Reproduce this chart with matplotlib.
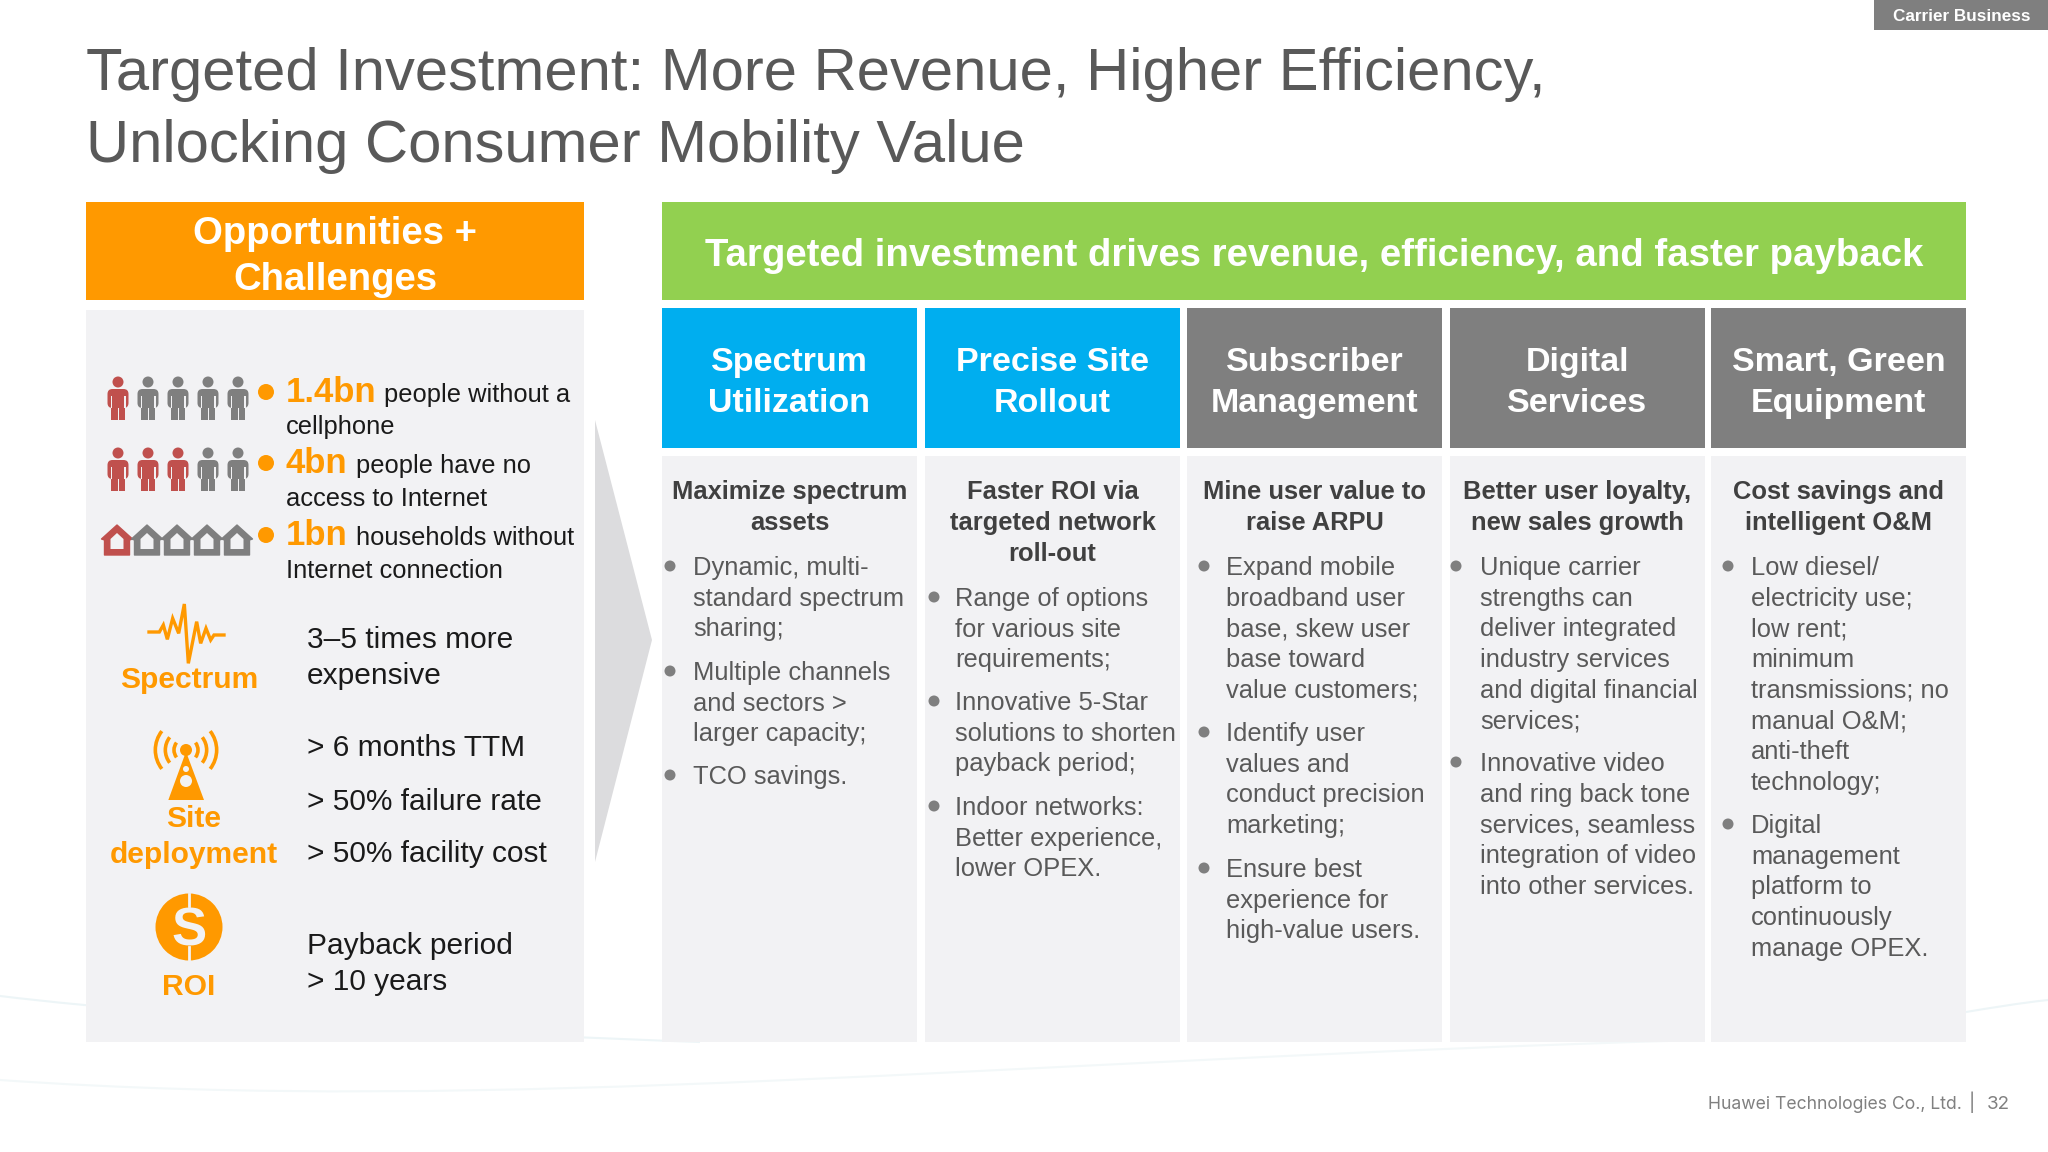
import numpy as np
from matplotlib import pyplot as plt
from matplotlib.patches import Rectangle, Circle, Polygon, FancyBboxPatch, Arc, PathPatch
from matplotlib.path import Path

ORANGE = "#ff9900"
GREEN = "#92d050"
BLUE = "#00aeef"
GREY = "#7f7f7f"
PANEL = "#f2f2f4"
RED = "#c0504d"
BODY = "#595959"
DARK = "#404040"
BLACK = "#1a1a1a"

title_lines = ["Targeted Investment: More Revenue, Higher Efficiency,",
               "Unlocking Consumer Mobility Value"]

headers = [["Spectrum", "Utilization"],
           ["Precise Site", "Rollout"],
           ["Subscriber", "Management"],
           ["Digital", "Services"],
           ["Smart, Green", "Equipment"]]
header_colors = [BLUE, BLUE, GREY, GREY, GREY]

subtitles = [["Maximize spectrum", "assets"],
             ["Faster ROI via", "targeted network", "roll-out"],
             ["Mine user value to", "raise ARPU"],
             ["Better user loyalty,", "new sales growth"],
             ["Cost savings and", "intelligent O&M"]]

bullets = [
    [["Dynamic, multi-", "standard spectrum", "sharing;"],
     ["Multiple channels", "and sectors >", "larger capacity;"],
     ["TCO savings."]],
    [["Range of options", "for various site", "requirements;"],
     ["Innovative 5-Star", "solutions to shorten", "payback period;"],
     ["Indoor networks:", "Better experience,", "lower OPEX."]],
    [["Expand mobile", "broadband user", "base, skew user", "base toward", "value customers;"],
     ["Identify user", "values and", "conduct precision", "marketing;"],
     ["Ensure best", "experience for", "high-value users."]],
    [["Unique carrier", "strengths can", "deliver integrated", "industry services", "and digital financial", "services;"],
     ["Innovative video", "and ring back tone", "services, seamless", "integration of video", "into other services."]],
    [["Low diesel/", "electricity use;", "low rent;", "minimum", "transmissions; no", "manual O&M;", "anti-theft", "technology;"],
     ["Digital", "management", "platform to", "continuously", "manage OPEX."]],
]
# first baseline of each bullet block
bullet_y = [[575, 680, 784],
            [606, 710, 815],
            [575, 741, 877],
            [575, 771],
            [575, 833]]
bullet_dot_x = [670, 934, 1204, 1456, 1728]
bullet_text_x = [693, 955, 1226, 1480, 1751]

col_left = [662, 925, 1187, 1450, 1711]
col_width = 255

stat_rows = [("1.4bn", "people without a", "cellphone", 384),
             ("4bn", "people have no", "access to Internet", 356),
             ("1bn", "households without", "Internet connection", 356)]
stat_red_counts = [1, 3, 1]
stat_y = [402, 473, 545]
stat_y2 = [434, 506, 578]

pain_text = [("3–5 times more", 648), ("expensive", 684), ("> 6 months TTM", 756),
             ("> 50% failure rate", 810), ("> 50% facility cost", 862),
             ("Payback period", 954), ("> 10 years", 990)]
pain_labels = [("Spectrum", 189, 688), ("Site", 194, 827), ("deployment", 194, 863), ("ROI", 189, 995)]


def person(ax, cx, top, color):
    ax.add_patch(Circle((cx, top + 5), 5.5, fc=color, ec="none"))
    ax.add_patch(FancyBboxPatch((cx - 7.5, top + 15), 15, 13, boxstyle="round,pad=3,rounding_size=5", fc=color, ec="none"))
    ax.add_patch(Rectangle((cx - 7, top + 26), 6.5, 17, fc=color, ec="none"))
    ax.add_patch(Rectangle((cx + 0.5, top + 26), 6.5, 17, fc=color, ec="none"))
    ax.add_patch(Rectangle((cx - 7.5, top + 19), 1.2, 12, fc=PANEL, ec="none"))
    ax.add_patch(Rectangle((cx + 6.3, top + 19), 1.2, 12, fc=PANEL, ec="none"))


def house(ax, cx, top, color):
    w = 15.5
    ax.add_patch(Polygon([(cx, top), (cx + w, top + 14), (cx + w - 3, top + 15), (cx + w - 3, top + 30),
                          (cx - w + 3, top + 30), (cx - w + 3, top + 15), (cx - w, top + 14)],
                         fc=color, ec=color, lw=1, joinstyle="round"))
    ax.add_patch(Polygon([(cx, top + 8), (cx + 6.5, top + 14), (cx + 6.5, top + 24), (cx - 6.5, top + 24), (cx - 6.5, top + 14)],
                         fc=PANEL, ec="none"))


def zoom_xy(x, y):
    return 80 + x / 3, 590 + y / 3


def wave_icon(ax):
    pts = [(207, 126), (238, 126), (250, 105), (262, 148), (278, 85), (296, 130), (313, 42),
           (325, 220), (350, 95), (362, 160), (378, 115), (392, 150), (402, 135), (432, 135)]
    xs, ys = zip(*[zoom_xy(*p) for p in pts])
    ax.plot(xs, ys, color=ORANGE, lw=2.4, solid_joinstyle="miter")


def tower_icon(ax):
    cx, cy = zoom_xy(318, 480)
    ax.add_patch(Polygon([zoom_xy(265, 630), zoom_xy(372, 630), zoom_xy(318, 485)], fc=ORANGE, ec="none"))
    ax.add_patch(Circle((cx, cy), 6, fc=ORANGE, ec="none"))
    ax.add_patch(Circle(zoom_xy(318, 537), 3, fc=PANEL, ec="none"))
    ax.add_patch(Circle(zoom_xy(318, 573), 6, fc=PANEL, ec="none"))
    for r in [36, 62, 92]:
        d = 2 * r / 3
        ax.add_patch(Arc((cx, cy), d, d, angle=0, theta1=-38, theta2=38, color=ORANGE, lw=2.6))
        ax.add_patch(Arc((cx, cy), d, d, angle=0, theta1=142, theta2=218, color=ORANGE, lw=2.6))


def dollar_icon(ax):
    ax.add_patch(Circle((189, 927), 33.5, fc=ORANGE, ec="none"))
    ax.text(189, 946, "S", color=PANEL, fontsize=38, fontweight="bold", ha="center", va="baseline")
    ax.plot([189, 189], [906, 947], color=ORANGE, lw=2)
    ax.plot([189, 189], [894, 906], color=PANEL, lw=2)
    ax.plot([189, 189], [947, 960], color=PANEL, lw=2)


def swoosh(ax, verts, color="#edf5f7"):
    codes = [Path.MOVETO] + [Path.CURVE4] * (len(verts) - 1)
    ax.add_patch(PathPatch(Path(verts, codes), fc="none", ec=color, lw=1.5))


def main():
    plt.rcParams["font.family"] = ["Liberation Sans", "DejaVu Sans"]

    fig = plt.figure(figsize=(20.48, 11.52), dpi=100)
    ax = fig.add_axes([0, 0, 1, 1])
    ax.set_xlim(0, 2048)
    ax.set_ylim(1152, 0)
    ax.axis("off")

    # faint background swooshes
    swoosh(ax, [(0, 996), (200, 1020), (500, 1035), (700, 1042)])
    swoosh(ax, [(0, 1080), (500, 1115), (1000, 1060), (1700, 1040)], "#f3f8f9")
    swoosh(ax, [(1966, 1012), (1990, 1008), (2020, 1003), (2048, 1000)])

    # top right tab
    ax.add_patch(Rectangle((1874, 0), 174, 30, fc=GREY, ec="none"))
    ax.text(1962, 21, "Carrier Business", color="white", fontsize=12.3, fontweight="bold", ha="center", va="baseline")

    for line, y in zip(title_lines, [90, 162]):
        ax.text(86, y, line, color=BODY, fontsize=43, ha="left", va="baseline")

    # left column
    ax.add_patch(Rectangle((86, 202), 498, 98, fc=ORANGE, ec="none"))
    ax.text(335, 244, "Opportunities +", color="white", fontsize=27.5, fontweight="bold", ha="center", va="baseline")
    ax.text(335, 290, "Challenges", color="white", fontsize=27.5, fontweight="bold", ha="center", va="baseline")
    ax.add_patch(Rectangle((86, 310), 498, 732, fc=PANEL, ec="none"))

    for row, (big, rest, second, rest_x) in enumerate(stat_rows):
        top = stat_y[row] - 25
        if row == 2:
            top = stat_y[row] - 20
        for i, cx in enumerate([118, 148, 178, 208, 238]):
            color = RED if i < stat_red_counts[row] else GREY
            if row < 2:
                person(ax, cx, top, color)
            else:
                house(ax, cx - 1, top, color)
        ax.add_patch(Circle((266, stat_y[row] - 10), 8, fc=ORANGE, ec="none"))
        ax.text(286, stat_y[row], big, color=ORANGE, fontsize=25, fontweight="bold", ha="left", va="baseline")
        ax.text(rest_x, stat_y[row], rest, color=BLACK, fontsize=18.4, ha="left", va="baseline")
        ax.text(286, stat_y2[row], second, color=BLACK, fontsize=18.4, ha="left", va="baseline")

    wave_icon(ax)
    tower_icon(ax)
    dollar_icon(ax)
    for label, x, y in pain_labels:
        ax.text(x, y, label, color=ORANGE, fontsize=21.6, fontweight="bold", ha="center", va="baseline")
    for line, y in pain_text:
        ax.text(307, y, line, color=BLACK, fontsize=21.5, ha="left", va="baseline")

    # arrow between the panels
    ax.add_patch(Polygon([(595, 420), (652, 640), (595, 862)], fc="#dcdcde", ec="none"))

    # green banner
    ax.add_patch(Rectangle((662, 202), 1304, 98, fc=GREEN, ec="none"))
    ax.text(1314, 266, "Targeted investment drives revenue, efficiency, and faster payback",
            color="white", fontsize=27.6, fontweight="bold", ha="center", va="baseline")

    # five columns
    for c, left in enumerate(col_left):
        cx = left + col_width / 2
        ax.add_patch(Rectangle((left, 308), col_width, 140, fc=header_colors[c], ec="none"))
        ax.add_patch(Rectangle((left, 456), col_width, 586, fc=PANEL, ec="none"))
        for line, y in zip(headers[c], [371, 412]):
            ax.text(cx, y, line, color="white", fontsize=24.5, fontweight="bold", ha="center", va="baseline")
        for j, line in enumerate(subtitles[c]):
            ax.text(cx, 499 + 31 * j, line, color=DARK, fontsize=18.4, fontweight="bold", ha="center", va="baseline")
        for block, y0 in zip(bullets[c], bullet_y[c]):
            ax.add_patch(Circle((bullet_dot_x[c], y0 - 9), 5.5, fc=GREY, ec="none"))
            for j, line in enumerate(block):
                ax.text(bullet_text_x[c], y0 + 30.7 * j, line, color=BODY, fontsize=18.4, ha="left", va="baseline")

    # footer
    ax.text(1962, 1109, "Huawei Technologies Co., Ltd.", color="#808080", fontsize=12.65, family="Inter", ha="right", va="baseline")
    ax.text(1972, 1109, "|", color="#808080", fontsize=13.5, family="Inter", ha="center", va="baseline")
    ax.text(2010, 1109, "32", color="#808080", fontsize=13.5, family="Inter", ha="right", va="baseline")

    fig.savefig("out.png", dpi=100, facecolor="white")


if __name__ == '__main__':
    main()
